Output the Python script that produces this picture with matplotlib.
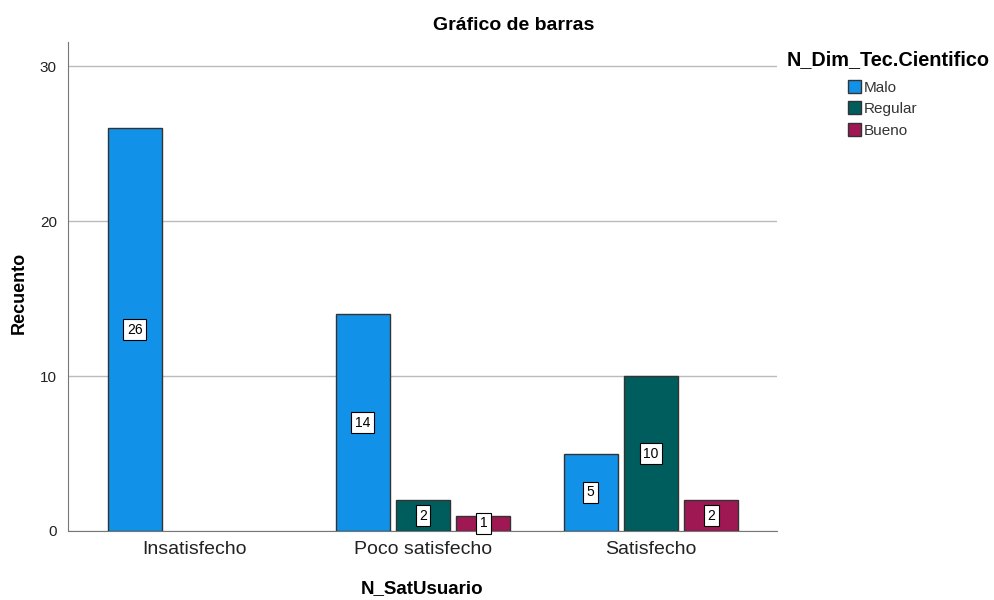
import numpy as np
import matplotlib.pyplot as plt
from matplotlib.patches import Patch

plt.rcParams['font.family'] = ['Liberation Sans', 'DejaVu Sans']

categories = ['Insatisfecho', 'Poco satisfecho', 'Satisfecho']
series = ['Malo', 'Regular', 'Bueno']
malo = [26, 14, 5]
regular = [0, 2, 10]
bueno = [0, 1, 2]
colors = ['#1192e8', '#005d5d', '#9f1853']

fig = plt.figure(figsize=(9.94, 6), dpi=100)
ax = fig.add_axes([68/994, 69/600, 709/994, 489/600])

x = np.arange(len(categories))
width = 0.237
offset = 0.265

for i, (vals, col) in enumerate(zip([malo, regular, bueno], colors)):
    xs = x + (i - 1) * offset
    for xi, v in zip(xs, vals):
        if v == 0:
            continue
        ax.bar(xi, v, width, color=col, edgecolor='#333333', linewidth=1, zorder=3)
        ax.text(xi, v / 2, str(v), ha='center', va='center', fontsize=10, zorder=4,
                bbox=dict(boxstyle='square,pad=0.25', fc='white', ec='black', lw=0.8))

ax.set_xlim(-0.557, 2.553)
ax.set_ylim(0, 31.55)
ax.set_yticks([0, 10, 20, 30])
ax.set_xticks(x)
ax.set_xticklabels(categories, fontsize=14, color='#222222')
ax.tick_params(axis='y', length=0, pad=8, labelsize=11, labelcolor='#222222')
ax.tick_params(axis='x', length=0, pad=7)
ax.yaxis.grid(True, color='#bbbbbb', linewidth=1, zorder=0)
for s in ['top', 'right']:
    ax.spines[s].set_visible(False)
for s in ['left', 'bottom']:
    ax.spines[s].set_color('#777777')

fig.text(19/994, 1 - 293/600, 'Recuento', rotation=90, ha='center', va='center',
         fontsize=13, fontweight='bold')
ax.set_xlabel('N_SatUsuario', fontsize=13.5, fontweight='bold', labelpad=16)
fig.text(514/994, 1 - 26/600, 'Gráfico de barras', ha='center', va='center',
         fontsize=14, fontweight='bold')

handles = [Patch(facecolor=c, edgecolor='#333333', label=s) for s, c in zip(series, colors)]
fig.text(888/994, 1 - 60/600, 'N_Dim_Tec.Cientifico', ha='center', va='center',
         fontsize=14.3, fontweight='bold')
fig.legend(handles=handles, loc='upper left', bbox_to_anchor=(848/994, 1 - 80/600),
           frameon=False, fontsize=11, handlelength=0.85, handleheight=0.9,
           handletextpad=0.2, labelspacing=0.45, borderaxespad=0, borderpad=0,
           labelcolor='#333333')

fig.savefig('out.png', dpi=100)
